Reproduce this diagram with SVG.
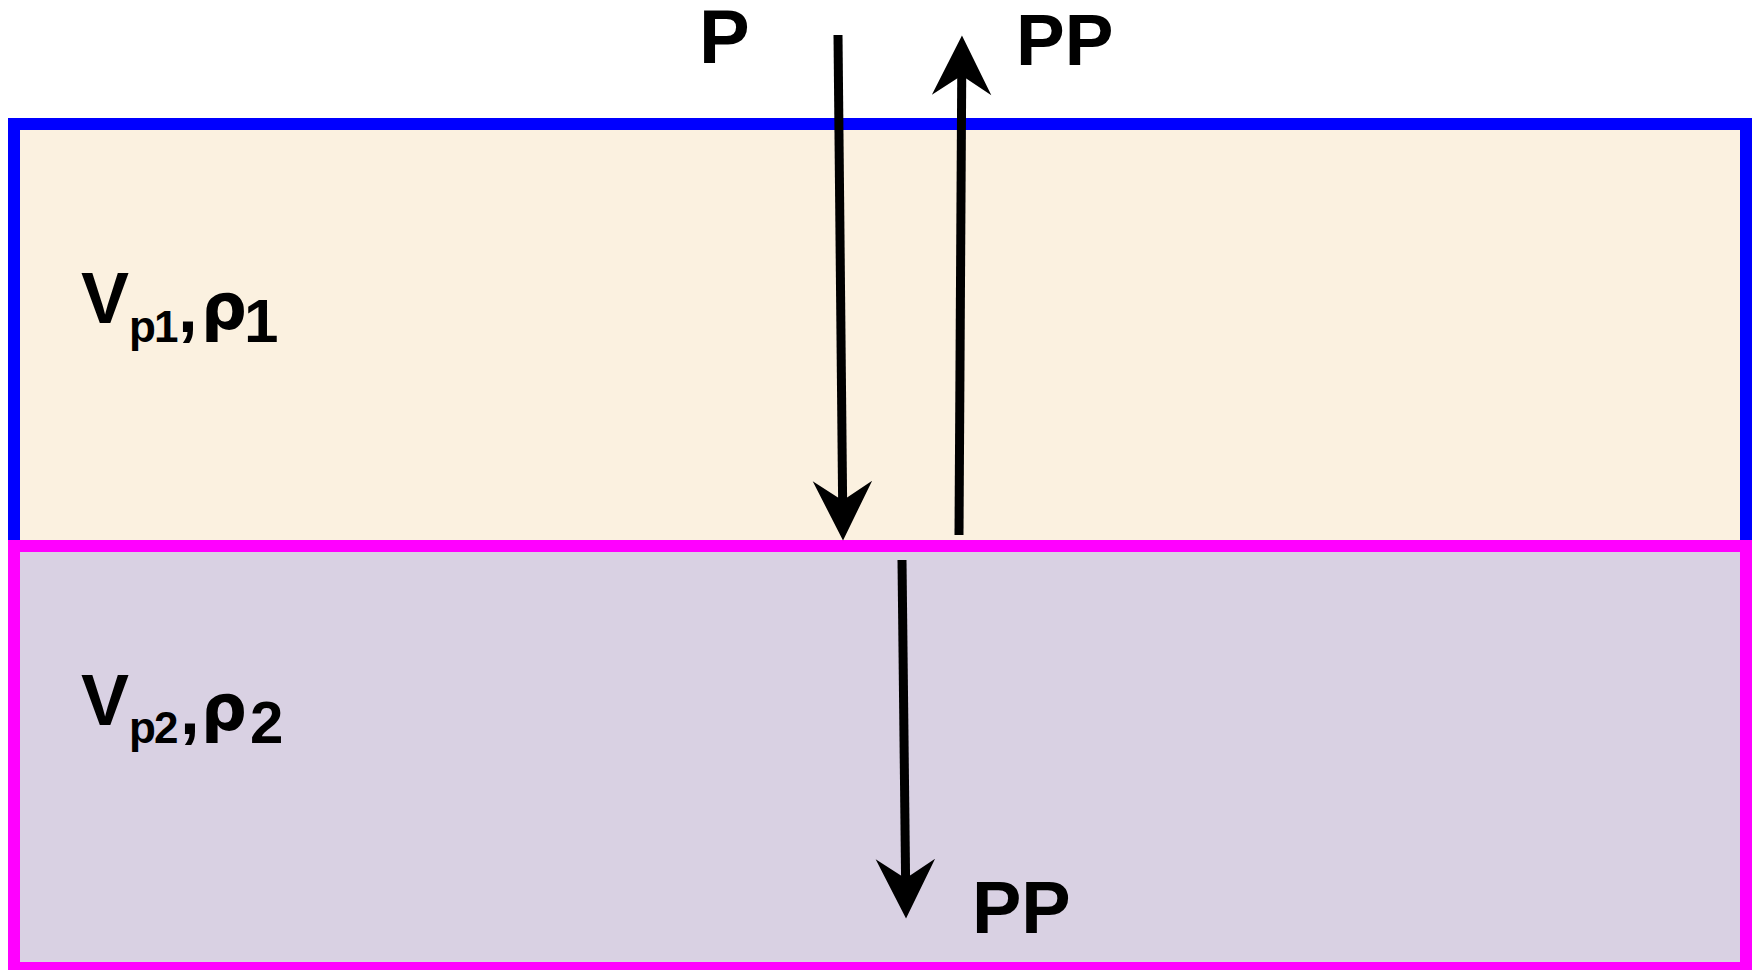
<svg xmlns="http://www.w3.org/2000/svg" width="1754" height="970" viewBox="0 0 1754 970">
  <style>
    .lbl { font-family: "Liberation Sans", Arial, sans-serif; font-weight: 700; fill: #000; }
    .sub { font-family: "Liberation Sans", Arial, sans-serif; font-weight: 700; fill: #000; letter-spacing: -2px; }
    .greek { font-family: "DejaVu Sans", "Liberation Sans", sans-serif; font-weight: 700; fill: #000; }
    .ray { stroke: #000; stroke-width: 9; fill: none; marker-end: url(#head); }
  </style>
  <defs>
    <marker id="head" markerUnits="userSpaceOnUse" markerWidth="80" markerHeight="80" viewBox="-50 -30 70 60" refX="0" refY="0" orient="auto" overflow="visible">
      <path d="M10,0 L-42,-26 L-25,0 L-42,26 Z" fill="#000"/>
    </marker>
  </defs>
  <rect x="0" y="0" width="1754" height="970" fill="#ffffff"/>

  <g id="layer1">
    <rect x="14" y="124" width="1732" height="422" fill="#FBF1E0" stroke="#0000FF" stroke-width="12"/>
    <text class="lbl" x="81" y="323" font-size="72">V</text>
    <text class="sub" x="129" y="342" font-size="44">p1</text>
    <text class="lbl" x="178" y="332" font-size="71">,</text>
    <text class="greek" x="201" y="329" font-size="64">ρ</text>
    <text class="lbl" x="244" y="342" font-size="62">1</text>
  </g>

  <g id="layer2">
    <rect x="14" y="546" width="1732" height="422" fill="#D9D1E3" stroke="#FF00FF" stroke-width="12"/>
    <text class="lbl" x="81" y="725" font-size="72">V</text>
    <text class="sub" x="129" y="743" font-size="44">p2</text>
    <text class="lbl" x="180" y="734" font-size="71">,</text>
    <text class="greek" x="201" y="730" font-size="64">ρ</text>
    <text class="lbl" x="250" y="743" font-size="60">2</text>
  </g>

  <g id="label-P">
    <text class="lbl" x="699" y="63" font-size="76">P</text>
  </g>
  <g id="label-PP-reflected">
    <text class="lbl" x="1016" y="65" font-size="73">PP</text>
  </g>
  <g id="label-PP-transmitted">
    <text class="lbl" x="972" y="933" font-size="74">PP</text>
  </g>

  <g id="connectors">
    <line class="ray" x1="838" y1="35" x2="842.9" y2="529"/>
    <line class="ray" x1="959" y1="535" x2="961.9" y2="47"/>
    <line class="ray" x1="902" y1="560" x2="905.9" y2="907"/>
  </g>
</svg>
